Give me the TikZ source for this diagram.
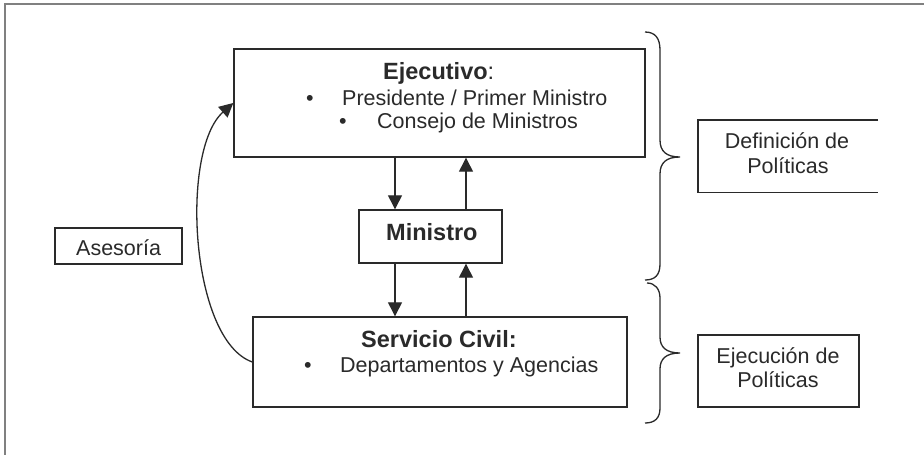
\documentclass[tikz,border=0pt]{standalone}
\usepackage{fontspec}
\setmainfont{Liberation Sans}
\usetikzlibrary{arrows.meta}
\definecolor{ink}{HTML}{2A2A2A}
\definecolor{frame}{HTML}{808080}
\begin{document}
\begin{tikzpicture}[x=1pt,y=-1pt,
  box/.style={draw=ink,line width=1.4pt,inner sep=0pt},
  txt/.style={inner sep=0pt,text=ink,font=\fontsize{21.5}{26}\selectfont,anchor=base west},
  btxt/.style={inner sep=0pt,text=ink,font=\fontsize{23.5}{28}\selectfont\bfseries,anchor=base west},
  bul/.style={inner sep=0pt,text=ink,font=\fontsize{21.5}{26}\selectfont,anchor=base},
  arr/.style={draw=ink,line width=1.3pt,-{Triangle[length=14pt,width=14pt]}},
  brc/.style={draw=ink,line width=1.3pt}]
\useasboundingbox (0,0) rectangle (924,455);
\fill[white] (0,0) rectangle (924,455);
% outer frame
\draw[frame,line width=1.5pt] (5,460) -- (5,4) -- (930,4);
% boxes
\node[box,minimum width=411pt,minimum height=108pt] (ejec) at (439.5,103) {};
\node[box,minimum width=143pt,minimum height=53pt] (mini) at (430.5,236.5) {};
\node[box,minimum width=374pt,minimum height=90pt] (serv) at (440,362) {};
\node[box,minimum width=127pt,minimum height=36pt] (ases) at (118.5,246) {};
\node[inner sep=0pt,minimum width=180pt,minimum height=72pt] (defi) at (788,156) {};
\draw[draw=ink,line width=1.4pt] (defi.north east) -- (defi.north west) -- (defi.south west) -- (defi.south east);
\node[box,minimum width=161pt,minimum height=72pt] (ejpo) at (778.5,371) {};
% texts
\node[btxt] (t1) at (383,79) {Ejecutivo\textmd{:}};
\node[bul] (b1) at (310,105) {•};
\node[txt] (t2) at (342,105) {Presidente / Primer Ministro};
\node[bul] (b2) at (343,128) {•};
\node[txt] (t3) at (377,128) {Consejo de Ministros};
\node[btxt] (t4) at (386,240) {Ministro};
\node[btxt] (t5) at (361,347) {Servicio Civil:};
\node[bul] (b3) at (308,372) {•};
\node[txt] (t6) at (340,372) {Departamentos y Agencias};
\node[txt] (t7) at (76,255) {Asesoría};
\node[txt,anchor=base] (t8) at (787,148) {Definición de};
\node[txt,anchor=base] (t9) at (788,173) {Políticas};
\node[txt,anchor=base] (t10) at (778,363) {Ejecución de};
\node[txt,anchor=base] (t11) at (778,387) {Políticas};
% vertical arrows
\coordinate (xl) at (395,0);
\coordinate (xr) at (466,0);
\draw[arr] (ejec.south -| xl) -- (mini.north -| xl);
\draw[arr] (mini.north -| xr) -- (ejec.south -| xr);
\draw[arr] (mini.south -| xl) -- (serv.north -| xl);
\draw[arr] (serv.north -| xr) -- (mini.south -| xr);
% advice curve
\draw[arr] (serv.west) .. controls (190,340) and (180,150) .. (ejec.west);
% braces
\draw[brc] (645,32) .. controls (655,32) and (660,38) .. (660,50) -- (660,140)
  .. controls (660,151) and (666,157) .. (680,157)
  .. controls (666,157) and (660,163) .. (660,174) -- (660,264)
  .. controls (660,275) and (655,280) .. (645,280);
\draw[brc] (647,283) .. controls (655,283) and (660,289) .. (660,298) -- (660,337)
  .. controls (660,347) and (666,353) .. (680,353)
  .. controls (666,353) and (660,359) .. (660,369) -- (660,408)
  .. controls (660,418) and (655,423) .. (645,423);
\end{tikzpicture}
\end{document}
